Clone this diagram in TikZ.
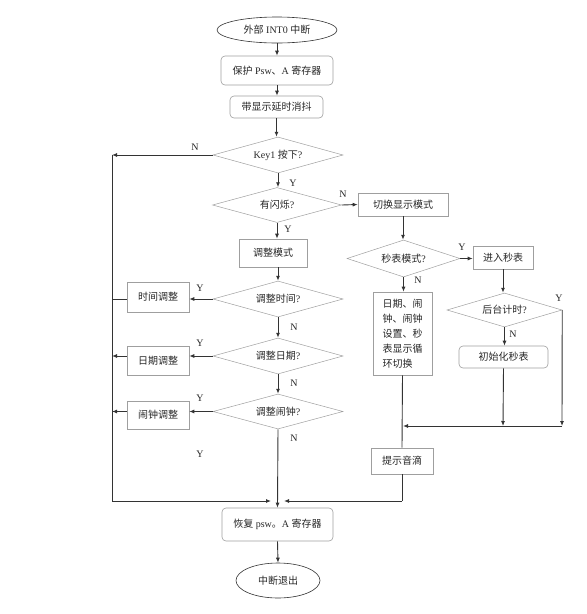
\documentclass[tikz,border=0pt]{standalone}
\usepackage{fontspec}
\setmainfont{Liberation Serif}
\newfontfamily\cjk{Noto Sans CJK SC}
\usetikzlibrary{shapes.geometric,arrows.meta}
\newcommand{\zh}[1]{{\cjk #1}}
\begin{document}
\begin{tikzpicture}[x=1pt,y=-1pt,
  font=\fontsize{10}{12}\selectfont,
  txt/.style={text=black!85},
  boxnode/.style={draw=gray!75,line width=0.6pt,rectangle,inner sep=0pt,txt},
  rbox/.style={boxnode,rounded corners=4pt},
  dia/.style={draw=gray!75,line width=0.5pt,diamond,aspect=3.6,inner sep=0pt,txt},
  ell/.style={draw=black!80,line width=0.6pt,ellipse,inner sep=0pt,txt},
  conn/.style={draw=black!80,line width=0.9pt},
  arr/.style={conn,-{Latex[length=5pt,width=4pt]}},
  lab/.style={txt,inner sep=0pt}]
\useasboundingbox (0,0) rectangle (587,614);
% nodes
\node[ell,minimum width=120pt,minimum height=26pt] (start) at (277,30) {\zh{外部} INT0 \zh{中断}};
\node[rbox,minimum width=112pt,minimum height=29pt] (protect) at (277,70.5) {\zh{保护} Psw\zh{、}A \zh{寄存器}};
\node[rbox,minimum width=93pt,minimum height=22pt] (deb) at (276.5,107) {\zh{带显示延时消抖}};
\node[dia,minimum width=130pt,minimum height=36pt] (key) at (278,155) {Key1 \zh{按下}?};
\node[dia,minimum width=129pt,minimum height=35pt] (flash) at (277,205) {\zh{有闪烁}?};
\node[boxnode,minimum width=90pt,minimum height=23pt] (switch) at (403,204.5) {\zh{切换显示模式}};
\node[boxnode,minimum width=68pt,minimum height=28pt] (adj) at (273,253) {\zh{调整模式}};
\node[dia,minimum width=130pt,minimum height=36pt] (qtime) at (278,299) {\zh{调整时间}?};
\node[dia,minimum width=130pt,minimum height=36pt] (qdate) at (278,356) {\zh{调整日期}?};
\node[dia,minimum width=130pt,minimum height=35pt] (qalarm) at (278,411.5) {\zh{调整闹钟}?};
\node[boxnode,minimum width=62pt,minimum height=30pt] (tadj) at (158,297) {\zh{时间调整}};
\node[boxnode,minimum width=62pt,minimum height=29pt] (dadj) at (158,360.5) {\zh{日期调整}};
\node[boxnode,minimum width=62pt,minimum height=28pt] (aadj) at (158,415) {\zh{闹钟调整}};
\node[dia,minimum width=113pt,minimum height=37pt] (qsw) at (403.5,258.5) {\zh{秒表模式}?};
\node[boxnode,minimum width=60pt,minimum height=23pt] (enter) at (503,257.5) {\zh{进入秒表}};
\node[boxnode,minimum width=59pt,minimum height=83pt,align=left,
  font=\fontsize{10}{15}\selectfont] (cycle) at (402.5,333.5)
  {\zh{日期、闹}\\\zh{钟、闹钟}\\\zh{设置、秒}\\\zh{表显示循}\\\zh{环切换}};
\node[dia,minimum width=115pt,minimum height=34pt] (qbg) at (504.5,310) {\zh{后台计时}?};
\node[rbox,minimum width=89pt,minimum height=22pt] (init) at (503.5,357) {\zh{初始化秒表}};
\node[boxnode,minimum width=62pt,minimum height=26pt] (beep) at (402,461) {\zh{提示音滴}};
\node[rbox,minimum width=111pt,minimum height=33pt] (restore) at (277.5,524.5) {\zh{恢复} psw\zh{。}A \zh{寄存器}};
\node[ell,minimum width=84pt,minimum height=35pt] (end) at (278,580.5) {\zh{中断退出}};
% helper coordinates
\coordinate (L1) at (112,155);
\coordinate (L2) at (112,501);
\coordinate (ML) at (271,501);
\coordinate (MR) at (284,501);
\coordinate (B1) at (402,501);
\coordinate (R1) at (562,426);
\coordinate (R2) at (503,426);
\coordinate (R3) at (403,426);
% main column
\draw[arr] (start.south) -- (start.south |- protect.north);
\draw[arr] (protect.south) -- (protect.south |- deb.north);
\draw[arr] (deb.south) -- (deb.south |- key.north);
\draw[arr] (key.south) -- (key.south |- flash.north);
\draw[arr] (flash.east) -- (switch.west);
\draw[arr] (flash.south) -- (flash.south |- adj.north);
\draw[arr] (qtime.north |- adj.south) -- (qtime.north);
\draw[arr] (qtime.south) -- (qdate.north);
\draw[arr] (qdate.south) -- (qalarm.north);
\draw[arr] (qalarm.south) -- (restore.north);
\draw[arr] (restore.south) -- (end.north);
% left side
\draw[arr] (key.west) -- (L1);
\draw[conn] (L1) -- (L2);
\draw[arr] (L2) -- (ML);
\draw[arr] (qtime.west) -- (qtime.west -| tadj.east);
\draw[arr] (qdate.west) -- (qdate.west -| dadj.east);
\draw[arr] (qalarm.west) -- (qalarm.west -| aadj.east);
\draw[conn] (tadj.west |- qtime.west) -- (L1 |- qtime.west);
\draw[arr] (dadj.west |- qdate.west) -- (L1 |- qdate.west);
\draw[arr] (aadj.west |- qalarm.west) -- (L1 |- qalarm.west);
% right side
\draw[arr] (switch.south) -- (switch.south |- qsw.north);
\draw[arr] (qsw.east) -- (qsw.east -| enter.west);
\draw[arr] (qsw.south) -- (qsw.south |- cycle.north);
\draw[arr] (enter.south) -- (enter.south |- qbg.north);
\draw[arr] (qbg.south) -- (qbg.south |- init.north);
\draw[arr] (qbg.east) -- (R1);
\draw[arr] (init.south) -- (R2);
\draw[arr] (R1) -- (R3);
\draw[conn] (cycle.south) -- (beep.north);
\draw[conn] (beep.south) -- (B1);
\draw[arr] (B1) -- (MR);
% labels
\node[lab] (n1) at (195,147) {N};
\node[lab] (y1) at (293,183) {Y};
\node[lab] (n2) at (343,194) {N};
\node[lab] (y2) at (288,229) {Y};
\node[lab] (y3) at (200,288) {Y};
\node[lab] (n3) at (294,327) {N};
\node[lab] (y4) at (200,343) {Y};
\node[lab] (n4) at (294,383) {N};
\node[lab] (y5) at (200,398) {Y};
\node[lab] (n5) at (294,438) {N};
\node[lab] (y6) at (200,454) {Y};
\node[lab] (y7) at (462,247) {Y};
\node[lab] (n6) at (418,280) {N};
\node[lab] (y8) at (559,298) {Y};
\node[lab] (n7) at (513,334) {N};
\end{tikzpicture}
\end{document}
